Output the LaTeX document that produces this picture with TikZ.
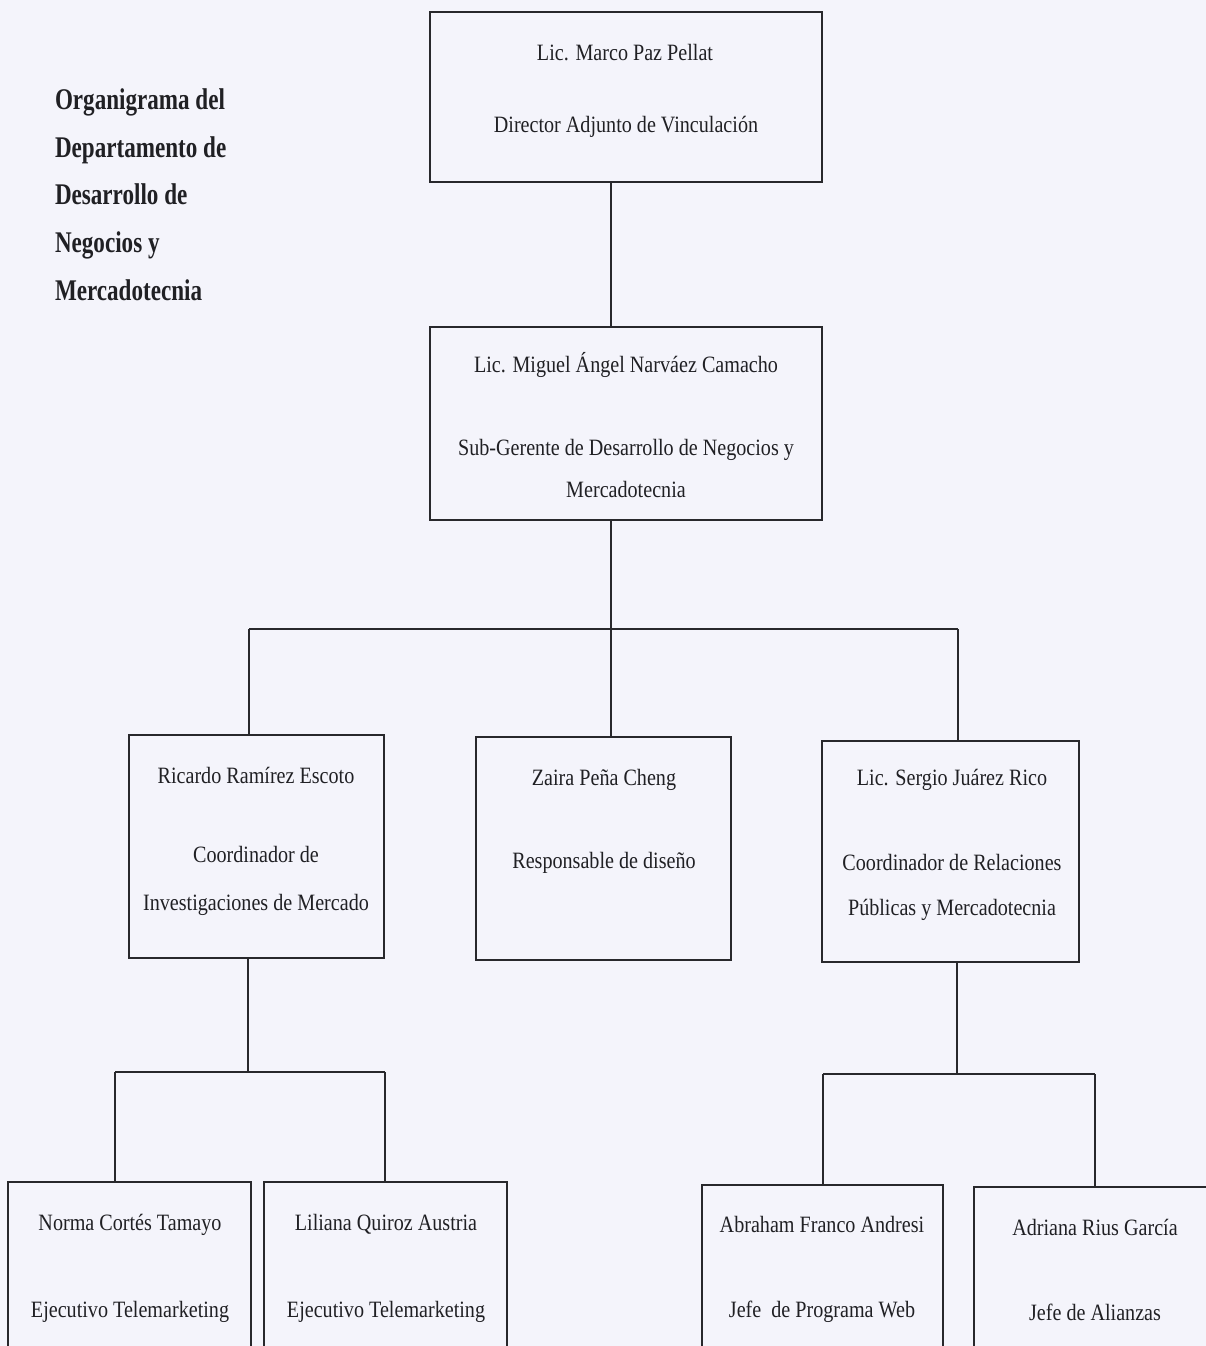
\documentclass[tikz,border=0pt]{standalone}
\usepackage{fontspec}
\setmainfont[FakeStretch=0.86]{Liberation Serif}
\newfontfamily\headfont[FakeStretch=0.77]{Liberation Serif}
\begin{document}
\begin{tikzpicture}[x=0.5pt,y=-0.5pt,
  every node/.style={inner sep=0pt, outer sep=0pt},
  box/.style={draw=linec, line width=1.2pt, anchor=north west, minimum width=#1},
  lbl/.style={anchor=base, text=txtc, font=\fontsize{11.7}{13}\selectfont},
  head/.style={anchor=base west, text=txtc, font=\headfont\bfseries\fontsize{15}{17}\selectfont},
  wire/.style={draw=linec, line width=1pt}]
\definecolor{paper}{RGB}{244,244,251}
\definecolor{linec}{RGB}{40,40,44}
\definecolor{txtc}{RGB}{32,32,36}

\fill[paper] (0,0) rectangle (1206,1346);
\useasboundingbox (0,0) rectangle (1206,1346);
\begin{scope}
\clip (0,0) rectangle (1206,1346);

% title
\node[head] (t1) at (55,109) {Organigrama del};
\node[head] (t2) at (55,157) {Departamento de};
\node[head] (t3) at (55,204) {Desarrollo de};
\node[head] (t4) at (55,252) {Negocios y};
\node[head] (t5) at (55,300) {Mercadotecnia};

% boxes
\node[box=196pt, minimum height=85pt]   (dir) at (430,12)  {};
\node[box=196pt, minimum height=96.5pt] (sub) at (430,327) {};
\node[box=127.5pt, minimum height=111.5pt] (inv) at (129,735) {};
\node[box=127.5pt, minimum height=111.5pt] (dis) at (476,737) {};
\node[box=128.5pt, minimum height=110.5pt] (rel) at (822,741) {};
\node[box=121.5pt, minimum height=120pt] (tm1) at (8,1182)   {};
\node[box=121.5pt, minimum height=120pt] (tm2) at (264,1182) {};
\node[box=120.5pt, minimum height=120pt] (web) at (702,1185) {};
\node[box=121pt,   minimum height=120pt] (ali) at (974,1187) {};

% labels
\node[lbl] (dir1) at (625,60)  {Lic. Marco Paz Pellat};
\node[lbl] (dir2) at (626,132) {Director Adjunto de Vinculación};

\node[lbl] (sub1) at (626,372) {Lic. Miguel Ángel Narváez Camacho};
\node[lbl] (sub2) at (626,455) {Sub-Gerente de Desarrollo de Negocios y};
\node[lbl] (sub3) at (626,497) {Mercadotecnia};

\node[lbl] (inv1) at (256,783) {Ricardo Ramírez Escoto};
\node[lbl] (inv2) at (256,862) {Coordinador de};
\node[lbl] (inv3) at (256,910) {Investigaciones de Mercado};

\node[lbl] (dis1) at (604,785) {Zaira Peña Cheng};
\node[lbl] (dis2) at (604,868) {Responsable de diseño};

\node[lbl] (rel1) at (952,785) {Lic. Sergio Juárez Rico};
\node[lbl] (rel2) at (952,870) {Coordinador de Relaciones};
\node[lbl] (rel3) at (952,915) {Públicas y Mercadotecnia};

\node[lbl] (tm1a) at (130,1230) {Norma Cortés Tamayo};
\node[lbl] (tm1b) at (130,1317) {Ejecutivo Telemarketing};
\node[lbl] (tm2a) at (386,1230) {Liliana Quiroz Austria};
\node[lbl] (tm2b) at (386,1317) {Ejecutivo Telemarketing};

\node[lbl] (weba) at (822,1232) {Abraham Franco Andresi};
\node[lbl] (webb) at (822,1317) {Jefe\ \ de Programa Web};
\node[lbl] (alia) at (1095,1235) {Adriana Rius García};
\node[lbl] (alib) at (1095,1320) {Jefe de Alianzas};

% junction points
\coordinate (trunk) at (611,629);
\coordinate (busL) at (249,629);
\coordinate (busR) at (958,629);
\coordinate (lj)   at (248,1072);
\coordinate (lbL)  at (115,1072);
\coordinate (lbR)  at (385,1072);
\coordinate (rj)   at (957,1074);
\coordinate (rbL)  at (823,1074);
\coordinate (rbR)  at (1095,1074);

% connectors
\draw[wire] (trunk |- dir.south) -- (trunk |- sub.north);
\draw[wire] (trunk |- sub.south) -- (trunk);
\draw[wire] (busL) -- (busR);
\draw[wire] (busL) -- (busL |- inv.north);
\draw[wire] (trunk) -- (trunk |- dis.north);
\draw[wire] (busR) -- (busR |- rel.north);

\draw[wire] (lj |- inv.south) -- (lj);
\draw[wire] (lbL) -- (lbR);
\draw[wire] (lbL) -- (lbL |- tm1.north);
\draw[wire] (lbR) -- (lbR |- tm2.north);

\draw[wire] (rj |- rel.south) -- (rj);
\draw[wire] (rbL) -- (rbR);
\draw[wire] (rbL) -- (rbL |- web.north);
\draw[wire] (rbR) -- (rbR |- ali.north);
\end{scope}
\end{tikzpicture}
\end{document}
